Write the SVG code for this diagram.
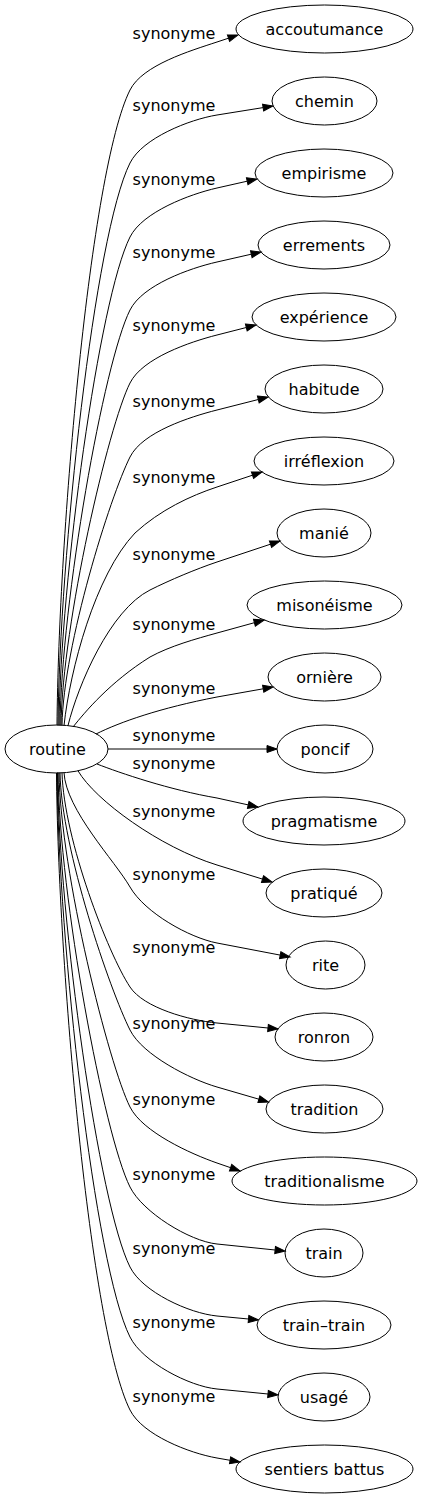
<svg xmlns="http://www.w3.org/2000/svg" width="422" height="1499" viewBox="0 0 422 1499">
<style>
.n ellipse{fill:none;stroke:#000;stroke-width:1}
text{font-family:"DejaVu Sans","Liberation Sans",sans-serif;font-size:16px;fill:#000;text-anchor:middle}
.e path{fill:none;stroke:#000;stroke-width:1;marker-end:url(#arr)}
</style>
<defs>
<marker id="arr" markerWidth="10" markerHeight="7" refX="0" refY="3.5" orient="auto" markerUnits="userSpaceOnUse" overflow="visible">
<path d="M0,0 L10,3.5 L0,7 z" fill="#000" stroke="#000" stroke-width="1"/>
</marker>
</defs>
<rect width="422" height="1499" fill="#fff"/>
<g id="edges" class="e">
<path d="M57,725.3 C58.5,534.7 90,170 130,90 C142.5,65 190.4,50.8 217,42 L228.5,38.2"/>
<path d="M58,725.3 C59.5,556.6 94.6,233.8 130,163 C142.5,138 189.4,119.5 217,115 L263.1,107.6"/>
<path d="M59,725.3 C60.5,578.8 99.2,298.5 130,237 C142.5,212 189.7,194.2 217,188 L247.2,181.2"/>
<path d="M60,725.3 C61.5,600.7 103.8,362.3 130,310 C142.5,285 189.7,268.2 217,262 L251.3,254.2"/>
<path d="M61,725.3 C62.5,622.6 108.4,426.1 130,383 C142.5,358 189.9,341.9 217,335 L246.3,327.5"/>
<path d="M62,725.3 C63.5,644.8 110,497 130,457 C142.5,432 189.9,416.9 217,410 L258.3,399.5"/>
<path d="M64,725.6 C70,670 95,575 135,533 C160,510 190.4,495.8 217,487 L252.5,475.2"/>
<path d="M68,725.6 C78,685 110,610 150,590 C170,580 196.1,569 217,562 L270.5,544.2"/>
<path d="M73,727 C85,712 110,682 150,657 C170,646 195.8,638.9 217,633 L254.4,622.7"/>
<path d="M96,734 C120,722 160,708 217,697 L263.2,688.8"/>
<path d="M108,749 L267,749"/>
<path d="M97,764 C120,773 170,790 217,798 L248.2,804.9"/>
<path d="M78,770.8 C95,800 159.7,847.3 217,865 L262.5,879.1"/>
<path d="M64,772.6 C66,810 115,861 130,887 C145,913 189.5,937.7 217,943 L280.2,955.1"/>
<path d="M62,772.7 C64,840 108,953.6 130,987 C143.75,1007.9 189.1,1020.3 217,1023 L268,1028"/>
<path d="M60,772.7 C61.5,849.8 110,990 130,1030 C142.5,1055 190.1,1079.2 217,1087 L258.9,1099.2"/>
<path d="M59,772.7 C60.5,872.9 109,1064.9 130,1107 C142.5,1132 190.6,1153.8 217,1163 L230.6,1167.7"/>
<path d="M58,772.7 C59.5,897 103.9,1134.8 130,1187 C142.5,1212 189.1,1241.1 217,1244 L275.1,1250"/>
<path d="M57.5,772.7 C59,921 98.9,1204.8 130,1267 C142.5,1292 189.1,1313.3 217,1316 L248.5,1319"/>
<path d="M57,772.7 C58.5,942 94.5,1266 130,1337 C142.5,1362 189.1,1386.3 217,1389 L268,1394"/>
<path d="M56.5,773 C58,964 90,1330 130,1410 C142.5,1435 189.4,1453.2 217,1458 L230.1,1460.3"/>
</g>
<g id="labels">
<text x="174" y="39">synonyme</text>
<text x="174" y="111">synonyme</text>
<text x="174" y="185">synonyme</text>
<text x="174" y="258">synonyme</text>
<text x="174" y="331">synonyme</text>
<text x="174" y="407">synonyme</text>
<text x="174" y="483">synonyme</text>
<text x="174" y="559.5">synonyme</text>
<text x="174" y="629.5">synonyme</text>
<text x="174" y="694">synonyme</text>
<text x="174" y="741">synonyme</text>
<text x="174" y="769">synonyme</text>
<text x="174" y="817">synonyme</text>
<text x="174" y="880">synonyme</text>
<text x="174" y="953">synonyme</text>
<text x="174" y="1029">synonyme</text>
<text x="174" y="1104.5">synonyme</text>
<text x="174" y="1179.5">synonyme</text>
<text x="174" y="1253.5">synonyme</text>
<text x="174" y="1328">synonyme</text>
<text x="174" y="1402">synonyme</text>
</g>
<g id="routine" class="n"><ellipse cx="56.5" cy="749" rx="51.5" ry="24"/><text x="57.5" y="755">routine</text></g>
<g id="accoutumance" class="n"><ellipse cx="324.5" cy="29" rx="88.5" ry="24"/><text x="324.5" y="35">accoutumance</text></g>
<g id="chemin" class="n"><ellipse cx="324.5" cy="101" rx="52.5" ry="24"/><text x="324.5" y="107">chemin</text></g>
<g id="empirisme" class="n"><ellipse cx="324" cy="173" rx="69" ry="24"/><text x="324" y="179">empirisme</text></g>
<g id="errements" class="n"><ellipse cx="324" cy="245" rx="66" ry="24"/><text x="324" y="251">errements</text></g>
<g id="experience" class="n"><ellipse cx="324" cy="317" rx="72" ry="24"/><text x="324" y="323">expérience</text></g>
<g id="habitude" class="n"><ellipse cx="324" cy="389" rx="59" ry="24"/><text x="324" y="395">habitude</text></g>
<g id="irreflexion" class="n"><ellipse cx="324" cy="461" rx="70" ry="24"/><text x="324" y="467">irréflexion</text></g>
<g id="manie" class="n"><ellipse cx="324" cy="533" rx="47" ry="24"/><text x="324" y="539">manié</text></g>
<g id="misoneisme" class="n"><ellipse cx="324.5" cy="605" rx="77.5" ry="24"/><text x="324.5" y="611">misonéisme</text></g>
<g id="orniere" class="n"><ellipse cx="324.5" cy="677" rx="56.5" ry="24"/><text x="324.5" y="683">ornière</text></g>
<g id="poncif" class="n"><ellipse cx="325" cy="749" rx="48" ry="24"/><text x="325" y="755">poncif</text></g>
<g id="pragmatisme" class="n"><ellipse cx="324" cy="821" rx="81" ry="24"/><text x="324" y="827">pragmatisme</text></g>
<g id="pratique" class="n"><ellipse cx="324" cy="893" rx="58" ry="24"/><text x="324" y="899">pratiqué</text></g>
<g id="rite" class="n"><ellipse cx="325.5" cy="965" rx="39.5" ry="24"/><text x="325.5" y="971">rite</text></g>
<g id="ronron" class="n"><ellipse cx="324" cy="1037" rx="49" ry="24"/><text x="324" y="1043">ronron</text></g>
<g id="tradition" class="n"><ellipse cx="324.5" cy="1109" rx="58.5" ry="24"/><text x="324.5" y="1115">tradition</text></g>
<g id="traditionalisme" class="n"><ellipse cx="324.5" cy="1181" rx="92.5" ry="24"/><text x="324.5" y="1187">traditionalisme</text></g>
<g id="train" class="n"><ellipse cx="324" cy="1253" rx="39" ry="24"/><text x="324" y="1259">train</text></g>
<g id="train-train" class="n"><ellipse cx="324" cy="1325" rx="67" ry="24"/><text x="324" y="1331">train–train</text></g>
<g id="usage" class="n"><ellipse cx="324" cy="1397" rx="46" ry="24"/><text x="324" y="1403">usagé</text></g>
<g id="sentiers-battus" class="n"><ellipse cx="324.5" cy="1469" rx="88.5" ry="24"/><text x="324.5" y="1475">sentiers battus</text></g>
</svg>
